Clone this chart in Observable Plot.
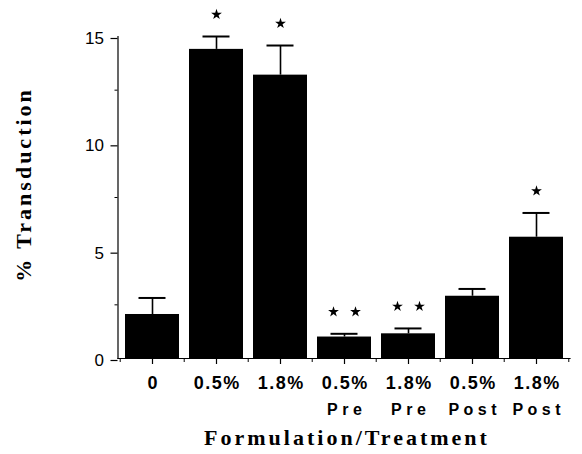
<!DOCTYPE html>
<html>
<head>
<meta charset="utf-8">
<script src="https://cdn.jsdelivr.net/npm/d3@7"></script>
<script src="https://cdn.jsdelivr.net/npm/@observablehq/plot@0.6"></script>
<style>
  html, body { margin: 0; padding: 0; background: #fff; }
</style>
</head>
<body>
<div id="chart"></div>
<script>
// Data
const categories = ["0", "0.5%", "1.8%", "0.5% Pre", "1.8% Pre", "0.5% Post", "1.8% Post"];
const labelLine1 = ["0", "0.5%", "1.8%", "0.5%", "1.8%", "0.5%", "1.8%"];
const labelLine2 = ["", "", "", "Pre", "Pre", "Post", "Post"];
const transduction = [2.05, 14.4, 13.2, 1.0, 1.15, 2.9, 5.65];
const sem = [0.77, 0.6, 1.38, 0.15, 0.25, 0.34, 1.13];
const stars = [0, 1, 1, 2, 2, 0, 1];
const yTicks = [0, 5, 10, 15];
const yMinorTicks = [2.5, 7.5, 12.5];
const yTitle = "% Transduction";
const xTitle = "Formulation/Treatment";

const rows = categories.map((c, i) => ({
  cat: c,
  l1: labelLine1[i],
  l2: labelLine2[i],
  v: transduction[i],
  top: transduction[i] + sem[i],
  stars: stars[i]
}));

const W = 582, H = 454;
const mL = 117.5, mR = 12.5, mT = 36, mB = 96;
const halfStep = (W - mL - mR) / categories.length / 2;
const sans = "Liberation Sans, Arial, sans-serif";
const serif = "Liberation Serif, Times New Roman, serif";
const blank = () => "";

const chart = Plot.plot({
  width: W,
  height: H,
  marginLeft: mL,
  marginRight: mR,
  marginTop: mT,
  marginBottom: mB,
  style: {background: "white", color: "black", overflow: "visible", fontFamily: sans},
  x: {domain: categories, paddingInner: 0.16, paddingOuter: 0.08, axis: null},
  y: {domain: [0, 15], axis: null},
  marks: [
    Plot.barY(rows, {x: "cat", y: "v", fill: "black"}),
    Plot.ruleX(rows, {x: "cat", y1: "v", y2: "top", stroke: "black", strokeWidth: 1.6}),
    Plot.tickY(rows, {x: "cat", y: "top", stroke: "black", strokeWidth: 2, insetLeft: 13.5, insetRight: 13.5}),
    Plot.dot(rows.filter(d => d.stars === 1), {x: "cat", y: "top", dy: -22, symbol: "star", r: 3.4, fill: "black", stroke: "none"}),
    Plot.dot(rows.filter(d => d.stars === 2), {x: "cat", y: "top", dy: -22, dx: -11, symbol: "star", r: 3.4, fill: "black", stroke: "none"}),
    Plot.dot(rows.filter(d => d.stars === 2), {x: "cat", y: "top", dy: -22, dx: 11, symbol: "star", r: 3.4, fill: "black", stroke: "none"}),
    Plot.frame({anchor: "left", stroke: "black", strokeWidth: 1.2}),
    Plot.frame({anchor: "bottom", stroke: "black", strokeWidth: 1.2}),
    Plot.axisY({ticks: yTicks, tickSize: 7, tickPadding: 7, dy: 2, label: null, fontSize: 17, strokeWidth: 1.2, fontFamily: sans}),
    Plot.axisY({ticks: yMinorTicks, tickSize: 3, tickFormat: blank, label: null}),
    Plot.axisX({ticks: categories, tickSize: 6, tickFormat: blank, label: null, strokeWidth: 1.2}),
    Plot.axisX({ticks: categories, tickSize: 4, tickFormat: blank, label: null, dx: -halfStep}),
    Plot.axisX({ticks: [categories[categories.length - 1]], tickSize: 4, tickFormat: blank, label: null, dx: halfStep}),
    Plot.text(rows, {x: "cat", text: "l1", frameAnchor: "bottom", lineAnchor: "bottom", dy: 30, dx: 0.75,
      fontSize: 18, fontWeight: "bold", fontFamily: sans}),
    Plot.text(rows, {x: "cat", text: "l2", frameAnchor: "bottom", lineAnchor: "bottom", dy: 56, dx: 2.25,
      fontSize: 16, fontWeight: "bold", fontFamily: sans}),
    Plot.text([xTitle], {frameAnchor: "bottom", textAnchor: "middle", lineAnchor: "bottom", dy: 86, dx: 3,
      fontSize: 22, fontWeight: "bold", fontFamily: serif}),
    Plot.text([yTitle], {frameAnchor: "left", textAnchor: "middle", rotate: -90, lineAnchor: "middle", dx: -94, dy: -13,
      fontSize: 22, fontWeight: "bold", fontFamily: serif})
  ]
});

// letter spacing for the text marks (in mark order: line1, line2, x title, y title)
const spacing = [1.5, 4.5, 3, 3];
d3.select(chart).selectAll('g[aria-label="text"]').each(function(_, i) {
  d3.select(this).style("letter-spacing", spacing[i] + "px");
});

document.getElementById("chart").appendChild(chart);
</script>
</body>
</html>
